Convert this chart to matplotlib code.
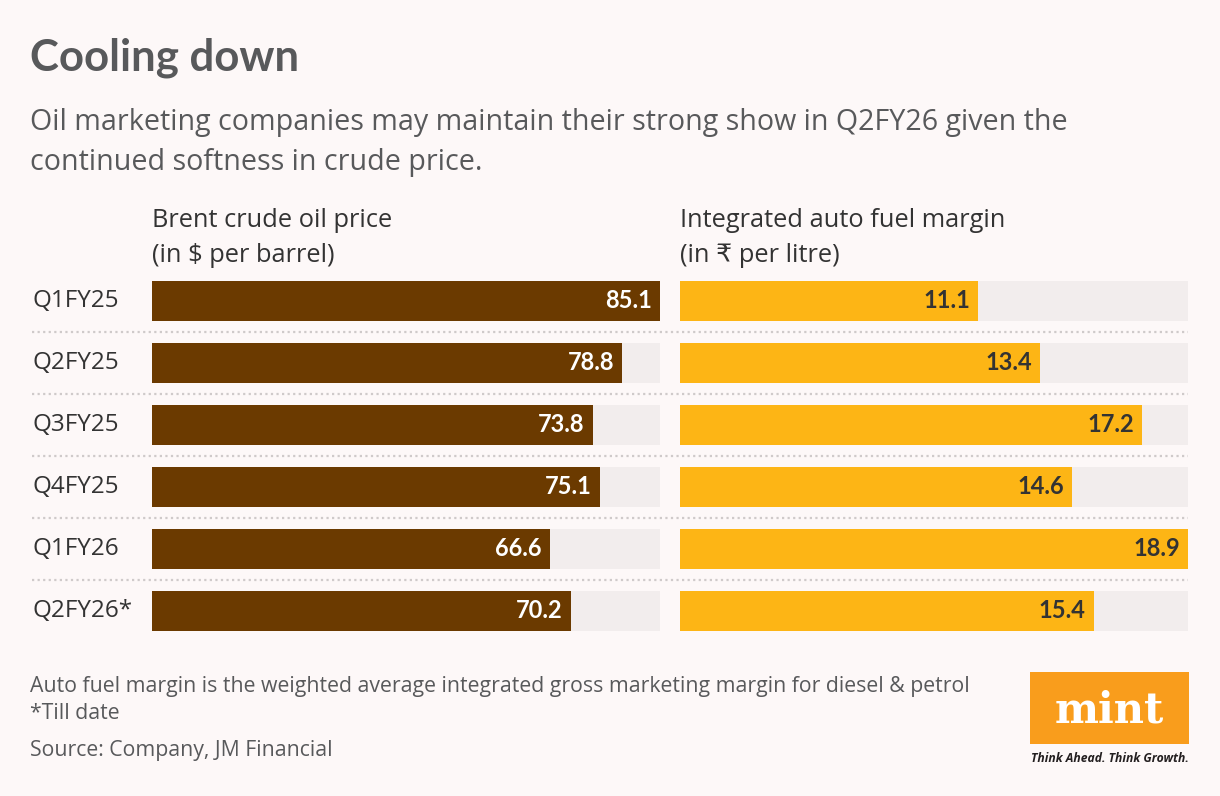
import matplotlib.pyplot as plt
import numpy as np

# data
quarters = ["Q1FY25", "Q2FY25", "Q3FY25", "Q4FY25", "Q1FY26", "Q2FY26*"]
brent = [85.1, 78.8, 73.8, 75.1, 66.6, 70.2]          # $ per barrel
fuel_margin = [11.1, 13.4, 17.2, 14.6, 18.9, 15.4]    # Rs per litre

bg = "#FDF8F8"
track = "#F2EDED"
brown = "#6B3A00"
yellow = "#FDB515"
txt = "#333333"

W, H = 1220, 796
fig = plt.figure(figsize=(W / 100, H / 100), dpi=100, facecolor=bg)

def px(x0, y0, x1, y1):
    # pixel box -> figure fraction rect
    return [x0 / W, 1 - y1 / H, (x1 - x0) / W, (y1 - y0) / H]

n = len(quarters)
y = np.arange(n)
top, bot = 270, 642

# dotted separators across both panels
sep = fig.add_axes(px(32, top, 1188, bot))
sep.set_xlim(0, 1)
sep.set_ylim(n - 0.5, -0.5)
for k in range(n - 1):
    sep.axhline(k + 0.5, color="#CFCACA", linewidth=1.6, linestyle=(0, (1, 1.5)))
sep.axis("off")

def panel(box, vals, color, lblcolor):
    ax = fig.add_axes(box)
    vmax = max(vals)
    ax.barh(y, [vmax] * n, height=0.645, color=track, linewidth=0)
    ax.barh(y, vals, height=0.645, color=color, linewidth=0)
    for yi, v in zip(y, vals):
        ax.text(v - vmax * 0.016, yi, f"{v:.1f}", ha="right", va="center",
                fontsize=17, fontweight="bold", color=lblcolor, family="Lato")
    ax.set_xlim(0, vmax)
    ax.set_ylim(n - 0.5, -0.5)
    ax.axis("off")
    return ax

panel(px(152, top, 660, bot), brent, brown, "white")
panel(px(680, top, 1188, bot), fuel_margin, yellow, txt)

for yi, q in zip(y, quarters):
    fig.text(32 / W, 1 - (301 + 62 * yi) / H, q, ha="left", va="center",
             fontsize=17.5, color=txt, family="Open Sans")

# titles
fig.text(30 / W, 1 - 70 / H, "Cooling down", fontsize=31.5, fontweight="bold",
         color="#58595B", family="Lato", va="baseline")
fig.text(30 / W, 1 - 130 / H,
         "Oil marketing companies may maintain their strong show in Q2FY26 given the",
         fontsize=20.6, color="#58595B", family="Open Sans", va="baseline")
fig.text(30 / W, 1 - 170 / H, "continued softness in crude price.",
         fontsize=20.6, color="#58595B", family="Open Sans", va="baseline")

fig.text(152 / W, 1 - 227 / H, "Brent crude oil price", fontsize=18.3, color=txt,
         family="Open Sans", va="baseline")
fig.text(152 / W, 1 - 262 / H, "(in $ per barrel)", fontsize=18.3, color=txt,
         family="Open Sans", va="baseline")
fig.text(680 / W, 1 - 227 / H, "Integrated auto fuel margin", fontsize=18.3, color=txt,
         family="Open Sans", va="baseline")
fig.text(680 / W, 1 - 262 / H, "(in \u20b9 per litre)", fontsize=18.3, color=txt,
         family=["Open Sans", "DejaVu Sans"], va="baseline")

# footnotes
foot = "#58595B"
fig.text(30 / W, 1 - 692 / H,
         "Auto fuel margin is the weighted average integrated gross marketing margin for diesel & petrol",
         fontsize=15.3, color=foot, family="Open Sans", va="baseline")
fig.text(30 / W, 1 - 719 / H, "*Till date", fontsize=15.3, color=foot,
         family="Open Sans", va="baseline")
fig.text(30 / W, 1 - 756 / H, "Source: Company, JM Financial", fontsize=15.3, color=foot,
         family="Open Sans", va="baseline")

# mint logo
logo = fig.add_axes(px(1030, 672, 1189, 744))
logo.set_facecolor("#F99D1C")
logo.set_xticks([])
logo.set_yticks([])
for s in logo.spines.values():
    s.set_visible(False)
logo.text(0.5, 0.47, "mint", ha="center", va="center", fontsize=30, fontweight="bold",
          color="white", family="DejaVu Serif", transform=logo.transAxes)
fig.text(1189 / W, 1 - 762 / H, "Think Ahead. Think Growth.", ha="right", va="baseline",
         fontsize=8.7, fontweight="bold", style="italic", color="#231F20", family="Open Sans")

fig.savefig("out.png", dpi=100, facecolor=bg)
